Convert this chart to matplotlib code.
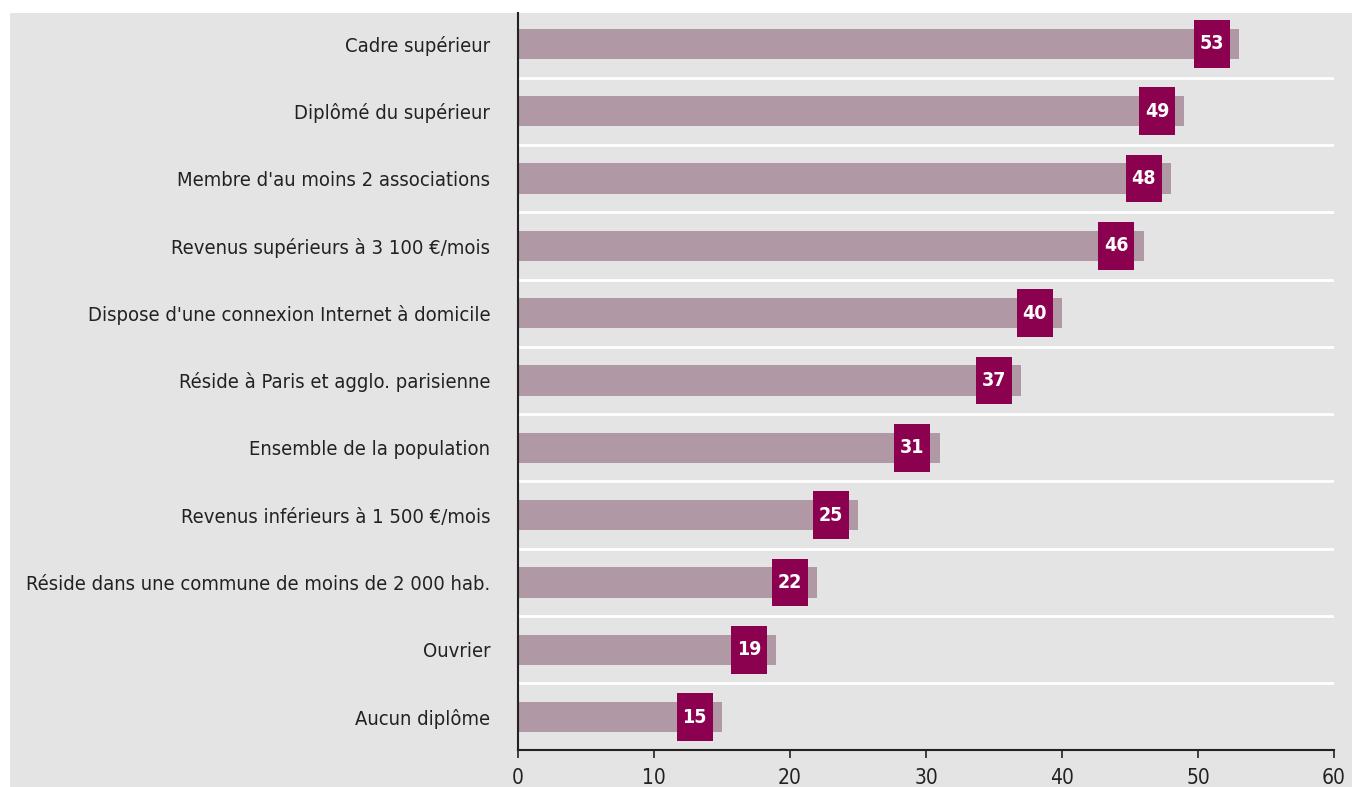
import numpy as np
import matplotlib
matplotlib.use("Agg")
from matplotlib import pyplot as plt
from matplotlib import font_manager
from matplotlib.patches import Rectangle

# categories from top to bottom
labels = ["Cadre supérieur",
          "Diplômé du supérieur",
          "Membre d'au moins 2 associations",
          "Revenus supérieurs à 3 100 €/mois",
          "Dispose d'une connexion Internet à domicile",
          "Réside à Paris et agglo. parisienne",
          "Ensemble de la population",
          "Revenus inférieurs à 1 500 €/mois",
          "Réside dans une commune de moins de 2 000 hab.",
          "Ouvrier",
          "Aucun diplôme"]
values = [53, 49, 48, 46, 40, 37, 31, 25, 22, 19, 15]
xticks = [0, 10, 20, 30, 40, 50, 60]

bg = "#e4e4e4"
bar_col = "#b098a4"
box_col = "#8c0050"

names = sorted(set(f.name for f in font_manager.fontManager.ttflist))
if 'Liberation Sans Narrow' in names:
    plt.rcParams['font.family'] = ['Liberation Sans Narrow', 'DejaVu Sans']
else:
    plt.rcParams['font.family'] = ['DejaVu Sans']
    plt.rcParams['font.stretch'] = 'condensed'

fig = plt.figure(figsize=(13.52, 7.87), dpi=100)
fig.patch.set_facecolor("white")
fig.patches.append(Rectangle((10/1352, 0), 1, 1 - 13/787, transform=fig.transFigure,
                             facecolor=bg, edgecolor="none", zorder=-5))

ax = fig.add_axes([518/1352, 1 - 750/787, (1334 - 518)/1352, (750 - 13)/787])
ax.set_facecolor(bg)

n = len(values)
y = np.arange(n)[::-1]
vals = np.array(values)
ax.barh(y, vals, height=0.45, color=bar_col, zorder=2)

# white separators between rows
for s in np.arange(0.5, n - 1, 1.0):
    ax.axhline(s, color="white", lw=2, zorder=1)

# value boxes, sitting a little before the bar end
box_w = 2.65
ax.barh(y, box_w, left=vals - 2 - box_w / 2, height=0.71, color=box_col, zorder=3)
for yi, v in zip(y, values):
    ax.text(v - 2, yi, str(v), ha="center", va="center", color="white",
            fontsize=14, fontweight="bold", zorder=4)

ax.set_xlim(0, 60)
ax.set_ylim(-0.49, n - 0.54)
ax.set_xticks(xticks)
ax.set_xticklabels([str(t) for t in xticks], fontsize=15, color="#222222")
ax.set_yticks(y)
ax.set_yticklabels(labels, fontsize=14.5, color="#222222")
ax.tick_params(axis="y", length=0, pad=20)
ax.tick_params(axis="x", length=6, width=1.2, direction="out", pad=7, color="#222222")
ax.spines["top"].set_visible(False)
ax.spines["right"].set_visible(False)
ax.spines["left"].set_color("#222222")
ax.spines["bottom"].set_color("#222222")
ax.spines["left"].set_linewidth(1.5)
ax.spines["bottom"].set_linewidth(1.5)

fig.savefig("out.png", dpi=100, facecolor=fig.get_facecolor())
